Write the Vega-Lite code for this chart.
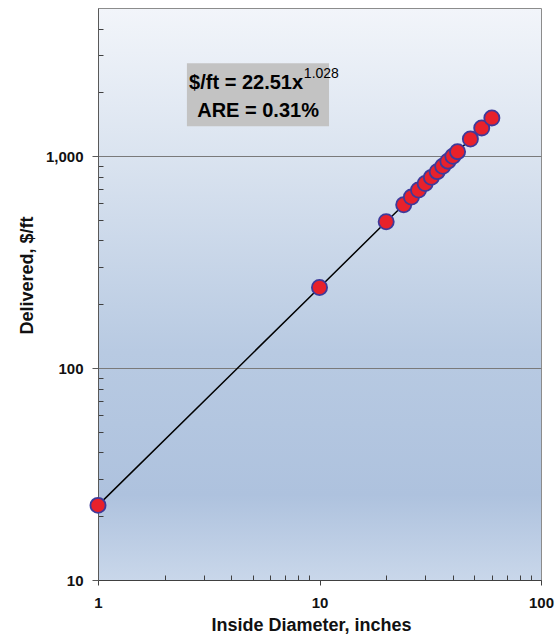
{
  "$schema": "https://vega.github.io/schema/vega-lite/v6.json",
  "width": 443,
  "height": 572,
  "autosize": "none",
  "padding": {"left": 98, "top": 8, "right": 19, "bottom": 55},
  "background": "white",
  "view": {
    "fill": {
      "gradient": "linear",
      "x1": 0, "y1": 0, "x2": 0, "y2": 1,
      "stops": [
        {"offset": 0, "color": "#f2f5fa"},
        {"offset": 0.25, "color": "#dbe4f0"},
        {"offset": 0.6, "color": "#b8cae2"},
        {"offset": 0.85, "color": "#aec2de"},
        {"offset": 1, "color": "#c9d7ea"}
      ]
    },
    "stroke": "#8c8c8c",
    "strokeWidth": 1
  },
  "config": {
    "font": "Liberation Sans",
    "axis": {
      "labelFont": "Liberation Sans",
      "labelFontWeight": "bold",
      "labelFontSize": 15,
      "labelColor": "#111111",
      "labelFlush": false,
      "titleFont": "Liberation Sans",
      "titleFontWeight": "bold",
      "titleFontSize": 18,
      "titleColor": "#111111"
    }
  },
  "data": {
    "values": [
      {"d": 1, "cost": 22.5},
      {"d": 10, "cost": 240},
      {"d": 20, "cost": 490},
      {"d": 24, "cost": 590},
      {"d": 26, "cost": 641},
      {"d": 28, "cost": 692},
      {"d": 30, "cost": 743},
      {"d": 32, "cost": 794},
      {"d": 34, "cost": 845},
      {"d": 36, "cost": 896},
      {"d": 38, "cost": 947},
      {"d": 40, "cost": 998},
      {"d": 42, "cost": 1050},
      {"d": 48, "cost": 1204},
      {"d": 54, "cost": 1359},
      {"d": 60, "cost": 1515}
    ]
  },
  "resolve": {"axis": {"x": "independent", "y": "independent"}},
  "layer": [
    {
      "data": {"values": [{}]},
      "mark": {"type": "rect", "fill": "#c3c3c3"},
      "encoding": {
        "x": {"datum": 2.52, "type": "quantitative", "axis": null},
        "x2": {"datum": 11.04},
        "y": {"datum": 2746, "type": "quantitative", "axis": null},
        "y2": {"datum": 1385}
      }
    },
    {
      "mark": {"type": "line", "color": "#000000", "strokeWidth": 1.5},
      "encoding": {
        "x": {
          "field": "d", "type": "quantitative",
          "axis": {"orient": "bottom", "values": [2,3,4,5,6,7,8,9,20,30,40,50,60,70,80,90], "labels": false, "domain": false, "grid": false, "tickSize": -5, "tickColor": "#404040", "title": null}
        },
        "y": {
          "field": "cost", "type": "quantitative",
          "axis": {"orient": "left", "values": [20,30,40,50,60,70,80,90,200,300,400,500,600,700,800,900,2000,3000,4000], "labels": false, "domain": false, "grid": false, "tickSize": -5, "tickColor": "#404040", "title": null}
        }
      }
    },
    {
      "mark": {"type": "point", "filled": true, "fill": "#e8212b", "stroke": "#3f3a9a", "strokeWidth": 1.8, "size": 230, "opacity": 1},
      "encoding": {
        "x": {
          "field": "d", "type": "quantitative",
          "scale": {"type": "log", "domain": [1, 100], "nice": false},
          "axis": {"orient": "bottom", "values": [1, 10, 100], "format": "d", "grid": false, "tickSize": 5, "labelPadding": 10, "domainColor": "#404040", "tickColor": "#404040", "title": "Inside Diameter, inches", "titleBaseline": "alphabetic", "titleX": 213, "titleY": 50}
        },
        "y": {
          "field": "cost", "type": "quantitative",
          "scale": {"type": "log", "domain": [10, 5000], "nice": false},
          "axis": {"orient": "left", "values": [10, 100, 1000], "format": ",", "grid": true, "gridColor": "#7a7a7a", "gridWidth": 1, "tickSize": 6, "labelPadding": 9, "domainColor": "#595959", "tickColor": "#595959", "title": "Delivered, $/ft", "titleBaseline": "alphabetic", "titleX": -66, "titleY": 267}
        }
      }
    },
    {
      "data": {"values": [{}]},
      "mark": {"type": "text", "text": "$/ft = 22.51x", "align": "right", "baseline": "alphabetic", "fontSize": 20, "fontWeight": "bold", "font": "Liberation Sans", "color": "#000000"},
      "encoding": {
        "x": {"datum": 8.43, "type": "quantitative", "axis": null},
        "y": {"datum": 2070, "type": "quantitative", "axis": null}
      }
    },
    {
      "data": {"values": [{}]},
      "mark": {"type": "text", "text": "1.028", "align": "left", "baseline": "alphabetic", "fontSize": 14, "fontWeight": "normal", "font": "Liberation Sans", "color": "#000000"},
      "encoding": {
        "x": {"datum": 8.5, "type": "quantitative", "axis": null},
        "y": {"datum": 2333, "type": "quantitative", "axis": null}
      }
    },
    {
      "data": {"values": [{}]},
      "mark": {"type": "text", "text": "ARE = 0.31%", "align": "center", "baseline": "alphabetic", "fontSize": 20, "fontWeight": "bold", "font": "Liberation Sans", "color": "#000000"},
      "encoding": {
        "x": {"datum": 5.28, "type": "quantitative", "axis": null},
        "y": {"datum": 1527, "type": "quantitative", "axis": null}
      }
    }
  ]
}
